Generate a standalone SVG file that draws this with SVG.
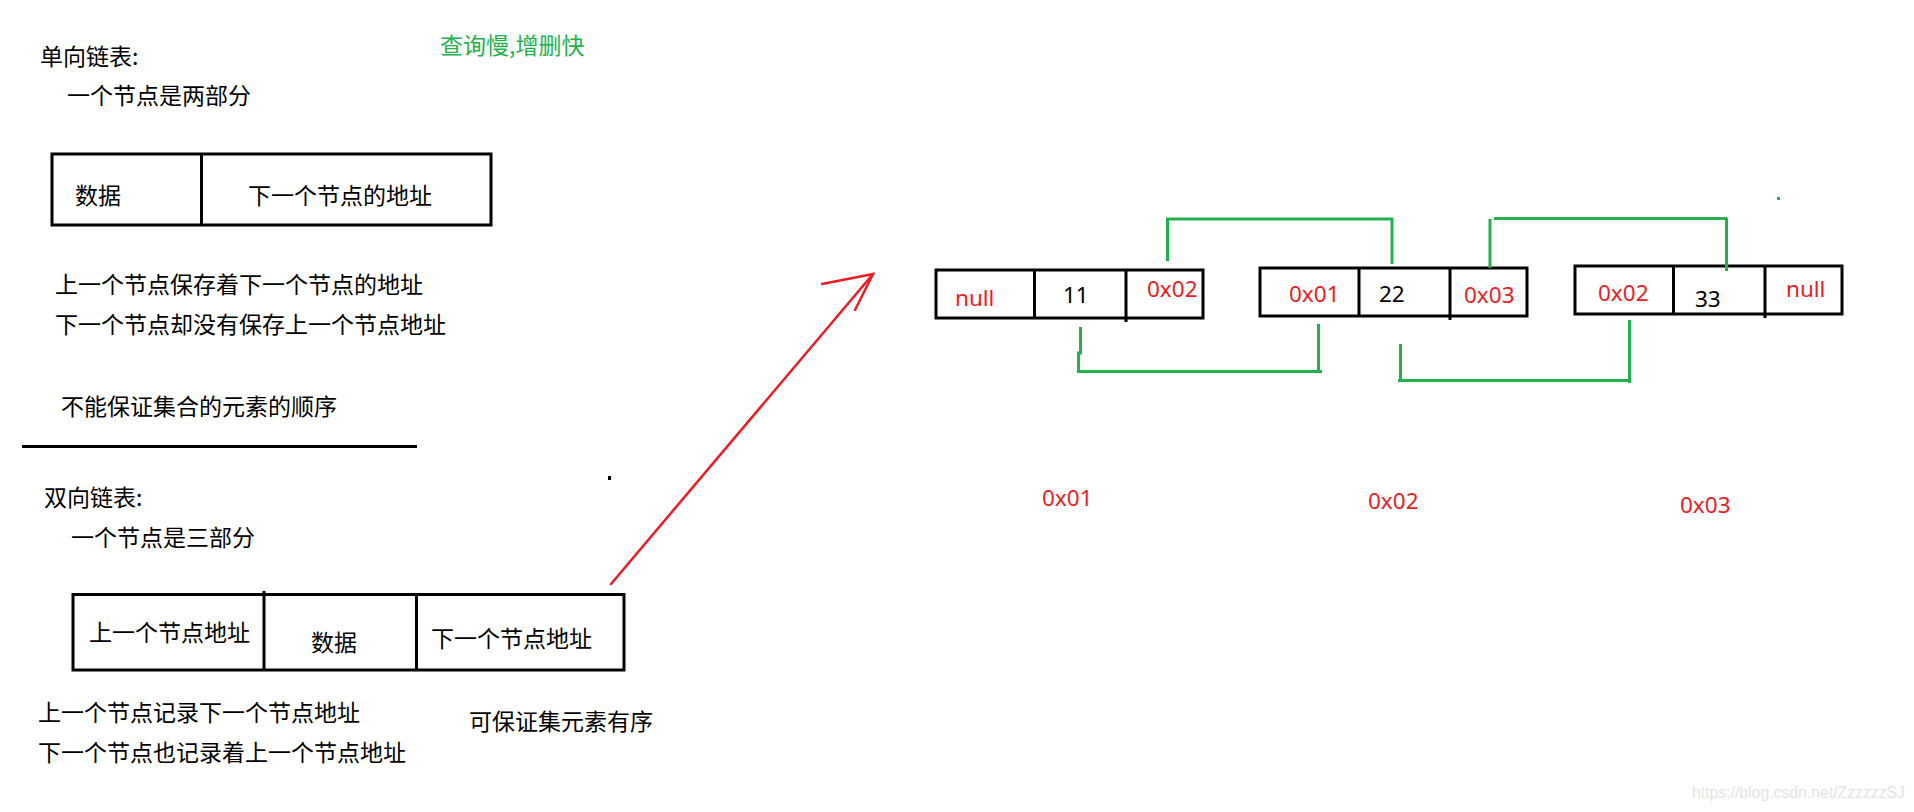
<svg xmlns="http://www.w3.org/2000/svg" width="1914" height="812" viewBox="0 0 1914 812">
<style>
.cjk{font-family:"Noto Sans CJK SC","Microsoft YaHei",sans-serif;font-size:23px;fill:#000}
.g{fill:#22B14C}
.lat{font-family:"Noto Sans","Open Sans",sans-serif;font-size:22.5px}
.red{fill:#ED1C24}
.blk{fill:#000}
.box{fill:none;stroke:#000;stroke-width:3}
.div{stroke:#000;stroke-width:3}
.gl{fill:none;stroke:#22B14C;stroke-width:3}
.rl{fill:none;stroke:#ED1C24;stroke-width:2.5;stroke-linecap:round}
.wm{font-family:"Liberation Sans",Arial,sans-serif;font-size:16px;fill:#e4e4e4}
</style>
<rect width="1914" height="812" fill="#fff"/>

<g id="title-single">
<text class="cjk" x="40" y="65">单向链表:</text>
<text class="cjk" x="67" y="104">一个节点是两部分</text>
</g>
<text id="note-speed" class="cjk g" x="440" y="54">查询慢,增删快</text>

<g id="single-node">
<rect class="box" x="52" y="154" width="439" height="71"/>
<line class="div" x1="201.5" y1="154" x2="201.5" y2="225"/>
<text class="cjk" x="75" y="204">数据</text>
<text class="cjk" x="248" y="204">下一个节点的地址</text>
</g>

<g id="single-notes">
<text class="cjk" x="55" y="293">上一个节点保存着下一个节点的地址</text>
<text class="cjk" x="55" y="333">下一个节点却没有保存上一个节点地址</text>
<text class="cjk" x="61" y="415">不能保证集合的元素的顺序</text>
</g>

<line id="separator" x1="22" y1="446.5" x2="417" y2="446.5" stroke="#000" stroke-width="3"/>
<rect id="dot-black" x="608" y="476" width="3" height="4" fill="#000"/>

<g id="title-double">
<text class="cjk" x="44" y="506">双向链表:</text>
<text class="cjk" x="71" y="546">一个节点是三部分</text>
</g>

<g id="double-node">
<rect class="box" x="73" y="594.5" width="551" height="75.5"/>
<line class="div" x1="264" y1="591" x2="264" y2="670"/>
<line class="div" x1="416.5" y1="596" x2="416.5" y2="670"/>
<text class="cjk" x="89" y="641">上一个节点地址</text>
<text class="cjk" x="311" y="651">数据</text>
<text class="cjk" x="431" y="647">下一个节点地址</text>
</g>

<g id="double-notes">
<text class="cjk" x="38" y="721">上一个节点记录下一个节点地址</text>
<text class="cjk" x="38" y="761">下一个节点也记录着上一个节点地址</text>
<text class="cjk" x="469" y="730">可保证集元素有序</text>
</g>

<g id="node-0x01">
<rect class="box" x="936" y="270" width="267" height="48"/>
<line class="div" x1="1034.5" y1="270" x2="1034.5" y2="318"/>
<line class="div" x1="1126" y1="270" x2="1126" y2="322"/>
<text class="lat red" x="955" y="306">null</text>
<text class="lat blk" x="1063" y="303">11</text>
<text class="lat red" x="1147" y="297">0x02</text>
</g>

<g id="node-0x02">
<rect class="box" x="1260" y="268" width="267" height="48"/>
<line class="div" x1="1359" y1="268" x2="1359" y2="316"/>
<line class="div" x1="1450" y1="268" x2="1450" y2="320"/>
<text class="lat red" x="1289" y="302">0x01</text>
<text class="lat blk" x="1379" y="302">22</text>
<text class="lat red" x="1464" y="303">0x03</text>
</g>

<g id="node-0x03">
<rect class="box" x="1575" y="266" width="267" height="48"/>
<line class="div" x1="1673.5" y1="266" x2="1673.5" y2="314"/>
<line class="div" x1="1765" y1="266" x2="1765" y2="318"/>
<text class="lat red" x="1598" y="301">0x02</text>
<text class="lat blk" x="1695" y="307">33</text>
<text class="lat red" x="1786" y="297">null</text>
</g>

<g id="addresses">
<text class="lat red" x="1042" y="506">0x01</text>
<text class="lat red" x="1368" y="509">0x02</text>
<text class="lat red" x="1680" y="513">0x03</text>
</g>

<g id="connectors">
<polyline class="gl" points="1167.5,261 1167.5,219 1392,219 1392,264"/>
<polyline class="gl" points="1490,268 1490,219"/>
<polyline class="gl" points="1494,218.5 1727,218.5"/>
<polyline class="gl" points="1726.5,218 1726.5,271"/>
<polyline class="gl" points="1080.5,327 1080.5,353 1078.5,353 1078.5,371"/>
<polyline class="gl" points="1077,371.5 1322,371.5"/>
<polyline class="gl" points="1318.5,324 1318.5,371"/>
<polyline class="gl" points="1400.5,344 1400.5,380"/>
<polyline class="gl" points="1398,380.5 1631,380.5"/>
<polyline class="gl" points="1629.5,320 1629.5,383"/>
<line class="rl" x1="611" y1="584" x2="873" y2="274"/>
<polyline class="rl" points="822,284 873,274 855,310"/>
</g>
<rect id="dot-green" x="1777" y="197" width="3" height="3" fill="#22B14C"/>

<text id="watermark" class="wm" x="1692" y="798" textLength="213" lengthAdjust="spacingAndGlyphs">https://blog.csdn.net/ZzzzzzSJ</text>
</svg>
